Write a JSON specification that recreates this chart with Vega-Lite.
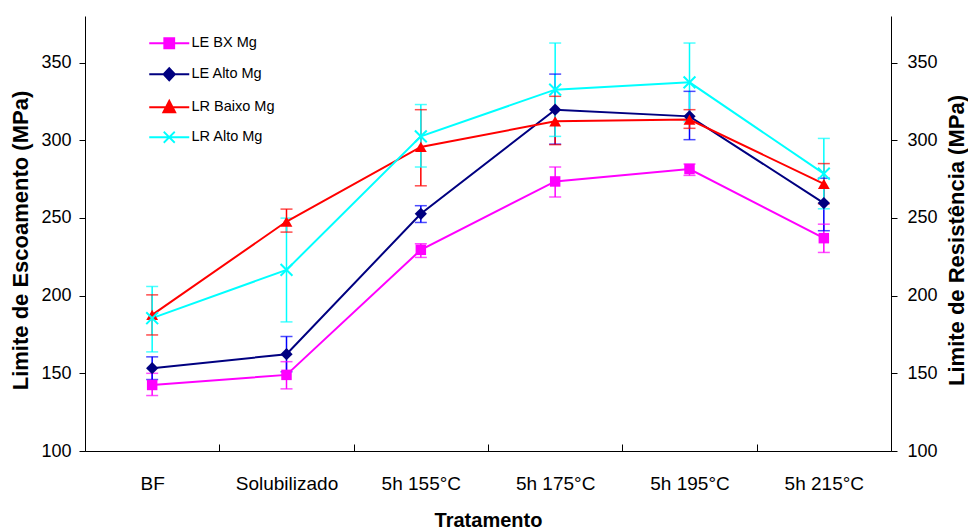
{
  "$schema": "https://vega.github.io/schema/vega-lite/v6.json",
  "width": 806,
  "height": 435,
  "autosize": "none",
  "padding": {"left": 85, "top": 16, "right": 77, "bottom": 77},
  "background": "white",
  "config": {
    "view": {"stroke": null},
    "font": "Liberation Sans",
    "axis": {"domainColor": "#000000", "tickColor": "#000000", "labelColor": "#000000", "titleColor": "#000000", "grid": false, "domainWidth": 1, "tickWidth": 1}
  },
  "data": {
    "values": [
      {"trat": "BF", "serie": "LE BX Mg", "mean": 142.5, "lo": 135.7, "hi": 150},
      {"trat": "Solubilizado", "serie": "LE BX Mg", "mean": 149, "lo": 140, "hi": 157.5},
      {"trat": "5h 155°C", "serie": "LE BX Mg", "mean": 229.5, "lo": 224.6, "hi": 233.4},
      {"trat": "5h 175°C", "serie": "LE BX Mg", "mean": 273.5, "lo": 263.5, "hi": 282.8},
      {"trat": "5h 195°C", "serie": "LE BX Mg", "mean": 281.5, "lo": 277.4, "hi": 284.7},
      {"trat": "5h 215°C", "serie": "LE BX Mg", "mean": 237, "lo": 227.8, "hi": 246},
      {"trat": "BF", "serie": "LE Alto Mg", "mean": 153.3, "lo": 146, "hi": 160.6},
      {"trat": "Solubilizado", "serie": "LE Alto Mg", "mean": 162.3, "lo": 151, "hi": 173.7},
      {"trat": "5h 155°C", "serie": "LE Alto Mg", "mean": 252.7, "lo": 247.1, "hi": 257.9},
      {"trat": "5h 175°C", "serie": "LE Alto Mg", "mean": 319.7, "lo": 297.5, "hi": 342.6},
      {"trat": "5h 195°C", "serie": "LE Alto Mg", "mean": 315.4, "lo": 300.4, "hi": 331.5},
      {"trat": "5h 215°C", "serie": "LE Alto Mg", "mean": 259.6, "lo": 241.8, "hi": 275.6},
      {"trat": "BF", "serie": "LR Baixo Mg", "mean": 187.6, "lo": 174.7, "hi": 200.5},
      {"trat": "Solubilizado", "serie": "LR Baixo Mg", "mean": 247.7, "lo": 240.9, "hi": 255.7},
      {"trat": "5h 155°C", "serie": "LR Baixo Mg", "mean": 295.7, "lo": 270.7, "hi": 319.7},
      {"trat": "5h 175°C", "serie": "LR Baixo Mg", "mean": 312.2, "lo": 297.2, "hi": 328.3},
      {"trat": "5h 195°C", "serie": "LR Baixo Mg", "mean": 313.3, "lo": 307.7, "hi": 319.7},
      {"trat": "5h 215°C", "serie": "LR Baixo Mg", "mean": 272, "lo": 259.1, "hi": 285},
      {"trat": "BF", "serie": "LR Alto Mg", "mean": 185.5, "lo": 163.8, "hi": 205.9},
      {"trat": "Solubilizado", "serie": "LR Alto Mg", "mean": 216.6, "lo": 183.1, "hi": 249.9},
      {"trat": "5h 155°C", "serie": "LR Alto Mg", "mean": 302.5, "lo": 282.8, "hi": 323},
      {"trat": "5h 175°C", "serie": "LR Alto Mg", "mean": 332.6, "lo": 302.5, "hi": 362.6},
      {"trat": "5h 195°C", "serie": "LR Alto Mg", "mean": 337.3, "lo": 312, "hi": 362.6},
      {"trat": "5h 215°C", "serie": "LR Alto Mg", "mean": 278.5, "lo": 255.9, "hi": 301.2}
    ]
  },
  "encoding": {
    "x": {
      "field": "trat",
      "type": "nominal",
      "sort": ["BF", "Solubilizado", "5h 155°C", "5h 175°C", "5h 195°C", "5h 215°C"],
      "scale": {"type": "band", "paddingInner": 0, "paddingOuter": 0},
      "axis": {
        "title": "Tratamento",
        "titleFont": "Liberation Sans",
        "titleFontSize": 20,
        "titleFontWeight": "bold",
        "titleBaseline": "top",
        "titleY": 59,
        "labelAngle": 0,
        "labelFontSize": 19,
        "labelFontWeight": "normal",
        "labelBaseline": "top",
        "labelPadding": 30,
        "tickBand": "extent",
        "tickSize": -7,
        "domain": true
      }
    }
  },
  "layer": [
    {
      "layer": [
        {
          "layer": [
            {
              "mark": {"type": "rule", "strokeWidth": 1.5},
              "encoding": {
                "y": {"field": "lo", "type": "quantitative", "scale": {"domain": [100, 380], "nice": false, "zero": false},
                  "axis": {
                    "orient": "left",
                    "values": [100, 150, 200, 250, 300, 350],
                    "title": "Limite de Escoamento (MPa)",
                    "titleFontSize": 22,
                    "titleFontWeight": "bold",
                    "titleAngle": -90,
                    "titleAlign": "center",
                    "titleBaseline": "bottom",
                    "titleX": -53,
                    "titleY": 224,
                    "labelFontSize": 18,
                    "labelPadding": 8,
                    "tickSize": 6,
                    "labelBaseline": "middle"
                  }},
                "y2": {"field": "hi"},
                "color": {"field": "serie", "type": "nominal", "legend": null,
                  "scale": {"domain": ["LE BX Mg", "LE Alto Mg", "LR Baixo Mg", "LR Alto Mg"], "range": ["#FF00FF", "#0000FF", "#FF0000", "#00FFFF"]}}
              }
            },
            {
              "mark": {"type": "tick", "thickness": 1.5, "size": 12, "orient": "horizontal"},
              "encoding": {
                "y": {"field": "lo", "type": "quantitative"},
                "color": {"field": "serie", "type": "nominal", "legend": null}
              }
            },
            {
              "mark": {"type": "tick", "thickness": 1.5, "size": 12, "orient": "horizontal"},
              "encoding": {
                "y": {"field": "hi", "type": "quantitative"},
                "color": {"field": "serie", "type": "nominal", "legend": null}
              }
            }
          ]
        },
        {
          "layer": [
            {
              "mark": {"type": "line", "strokeWidth": 2},
              "encoding": {
                "y": {"field": "mean", "type": "quantitative"},
                "color": {
                  "field": "serie",
                  "type": "nominal",
                  "scale": {"domain": ["LE BX Mg", "LE Alto Mg", "LR Baixo Mg", "LR Alto Mg"], "range": ["#FF00FF", "#000080", "#FF0000", "#00FFFF"]},
                  "legend": {
                    "title": null,
                    "orient": "none",
                    "legendX": 77,
                    "legendY": 20,
                    "padding": 0,
                    "labelFont": "Liberation Sans",
                    "labelFontSize": 14.5,
                    "labelColor": "#000000",
                    "labelOffset": 15,
                    "rowPadding": 12,
                    "symbolSize": 100,
                    "encode": {
                      "symbols": {
                        "update": {
                          "shape": {"signal": "datum.value === 'LE BX Mg' ? 'M-4,0H4M-1,-1H1V1H-1Z' : datum.value === 'LE Alto Mg' ? 'M-4,0H4M0,-1.25L1.15,0L0,1.25L-1.15,0Z' : datum.value === 'LR Baixo Mg' ? 'M-4,0H4M0,-1.3L1.2,1L-1.2,1Z' : 'M-4,0H4M-1.1,-1.1L1.1,1.1M1.1,-1.1L-1.1,1.1'"},
                          "stroke": {"signal": "datum.value === 'LE BX Mg' ? '#FF00FF' : datum.value === 'LE Alto Mg' ? '#000080' : datum.value === 'LR Baixo Mg' ? '#FF0000' : '#00FFFF'"},
                          "fill": {"signal": "datum.value === 'LE BX Mg' ? '#FF00FF' : datum.value === 'LE Alto Mg' ? '#000080' : datum.value === 'LR Baixo Mg' ? '#FF0000' : '#00FFFF'"},
                          "strokeWidth": {"value": 1.8},
                          "opacity": {"value": 1}
                        }
                      }
                    }
                  }
                }
              }
            },
            {
              "transform": [{"filter": "datum.serie === 'LE BX Mg'"}],
              "mark": {"type": "point", "filled": true, "opacity": 1, "shape": "square", "size": 110},
              "encoding": {
                "y": {"field": "mean", "type": "quantitative"},
                "color": {"field": "serie", "type": "nominal"}
              }
            },
            {
              "transform": [{"filter": "datum.serie === 'LE Alto Mg'"}],
              "mark": {"type": "point", "filled": true, "opacity": 1, "shape": "diamond", "size": 150},
              "encoding": {
                "y": {"field": "mean", "type": "quantitative"},
                "color": {"field": "serie", "type": "nominal"}
              }
            },
            {
              "transform": [{"filter": "datum.serie === 'LR Baixo Mg'"}],
              "mark": {"type": "point", "filled": true, "opacity": 1, "shape": "triangle-up", "size": 140},
              "encoding": {
                "y": {"field": "mean", "type": "quantitative"},
                "color": {"field": "serie", "type": "nominal"}
              }
            },
            {
              "transform": [{"filter": "datum.serie === 'LR Alto Mg'"}],
              "mark": {"type": "point", "filled": true, "opacity": 1, "shape": "M-1,-1L1,1M1,-1L-1,1", "size": 140, "strokeWidth": 2, "stroke": "#00FFFF"},
              "encoding": {
                "y": {"field": "mean", "type": "quantitative"},
                "color": {"field": "serie", "type": "nominal"}
              }
            }
          ]
        }
      ],
      "resolve": {"scale": {"color": "independent"}, "legend": {"color": "independent"}}
    },
    {
      "mark": {"type": "point", "opacity": 0},
      "encoding": {
        "y": {
          "field": "mean",
          "type": "quantitative",
          "scale": {"domain": [100, 380], "nice": false, "zero": false},
          "axis": {
            "orient": "right",
            "values": [100, 150, 200, 250, 300, 350],
            "title": "Limite de Resistência  (MPa)",
            "titleFontSize": 22,
            "titleFontWeight": "bold",
            "titleAngle": 270,
            "titleAlign": "center",
            "titleBaseline": "bottom",
            "titleX": 77,
            "titleY": 224,
            "labelFontSize": 18,
            "labelPadding": 10,
            "tickSize": 6,
            "labelBaseline": "middle"
          }
        }
      }
    }
  ],
  "resolve": {"scale": {"y": "independent"}}
}
